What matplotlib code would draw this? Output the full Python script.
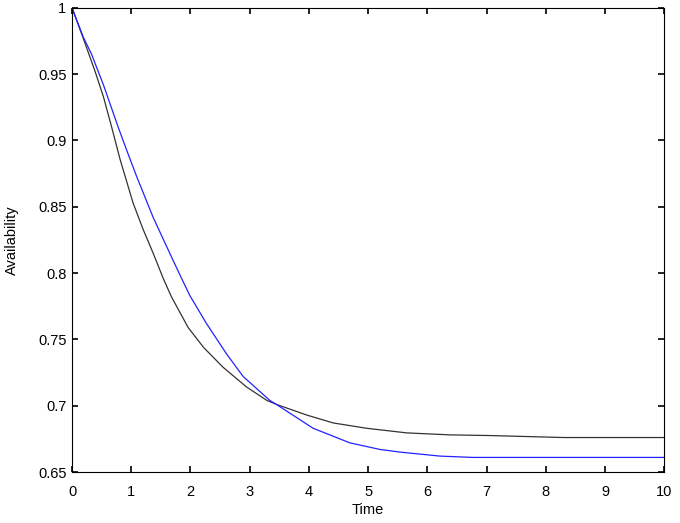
import matplotlib
matplotlib.use("Agg")
import matplotlib.pyplot as plt

plt.rcParams["font.family"] = ["Liberation Sans", "DejaVu Sans"]

# black curve
t_black = [0, 0.19, 0.39, 0.53, 0.67, 0.81, 1.03, 1.20, 1.37, 1.54, 1.68, 1.96, 2.22, 2.55,
           2.95, 3.29, 3.45, 3.96, 4.41, 4.97, 5.65, 6.38, 7.05, 8.3, 10]
a_black = [1.0, 0.977, 0.952, 0.933, 0.910, 0.886, 0.853, 0.833, 0.815, 0.796, 0.782, 0.759,
           0.744, 0.729, 0.714, 0.704, 0.701, 0.693, 0.687, 0.683, 0.6795, 0.678, 0.6775,
           0.676, 0.676]

# blue curve
t_blue = [0, 0.19, 0.33, 0.53, 0.78, 0.92, 1.09, 1.37, 1.65, 1.85, 1.99, 2.27, 2.61,
          2.89, 3.34, 3.45, 4.07, 4.69, 5.2, 5.54, 6.21, 6.77, 10]
a_blue = [1.0, 0.978, 0.965, 0.942, 0.910, 0.893, 0.873, 0.842, 0.815, 0.796, 0.783,
          0.762, 0.739, 0.722, 0.704, 0.701, 0.683, 0.672, 0.667, 0.665, 0.662, 0.661, 0.661]

xticks = list(range(0, 11))
yticks = [0.65, 0.7, 0.75, 0.8, 0.85, 0.9, 0.95, 1]
ylabels = ["0.65", "0.7", "0.75", "0.8", "0.85", "0.9", "0.95", "1"]

fig = plt.figure(figsize=(6.8, 5.23), dpi=100)
ax = fig.add_axes([0.1059, 0.0975, 0.871, 0.8875])

ax.plot(t_black, a_black, color="#333333", lw=0.9)
ax.plot(t_blue, a_blue, color="#2222ff", lw=0.9)

ax.set_xlim(0, 10)
ax.set_ylim(0.65, 1)
ax.set_xticks(xticks)
ax.set_yticks(yticks)
ax.set_yticklabels(ylabels)
ax.tick_params(direction="in", top=True, right=True, length=4, width=1.2,
               labelsize=10.5)
ax.tick_params(axis="x", pad=9)
ax.tick_params(axis="y", pad=4)
for s in ax.spines.values():
    s.set_linewidth(0.8)

ax.set_xlabel("Time", fontsize=10.5, labelpad=3)
ax.set_ylabel("Availability", fontsize=10.5, labelpad=14)

fig.savefig("out.png", dpi=100)
